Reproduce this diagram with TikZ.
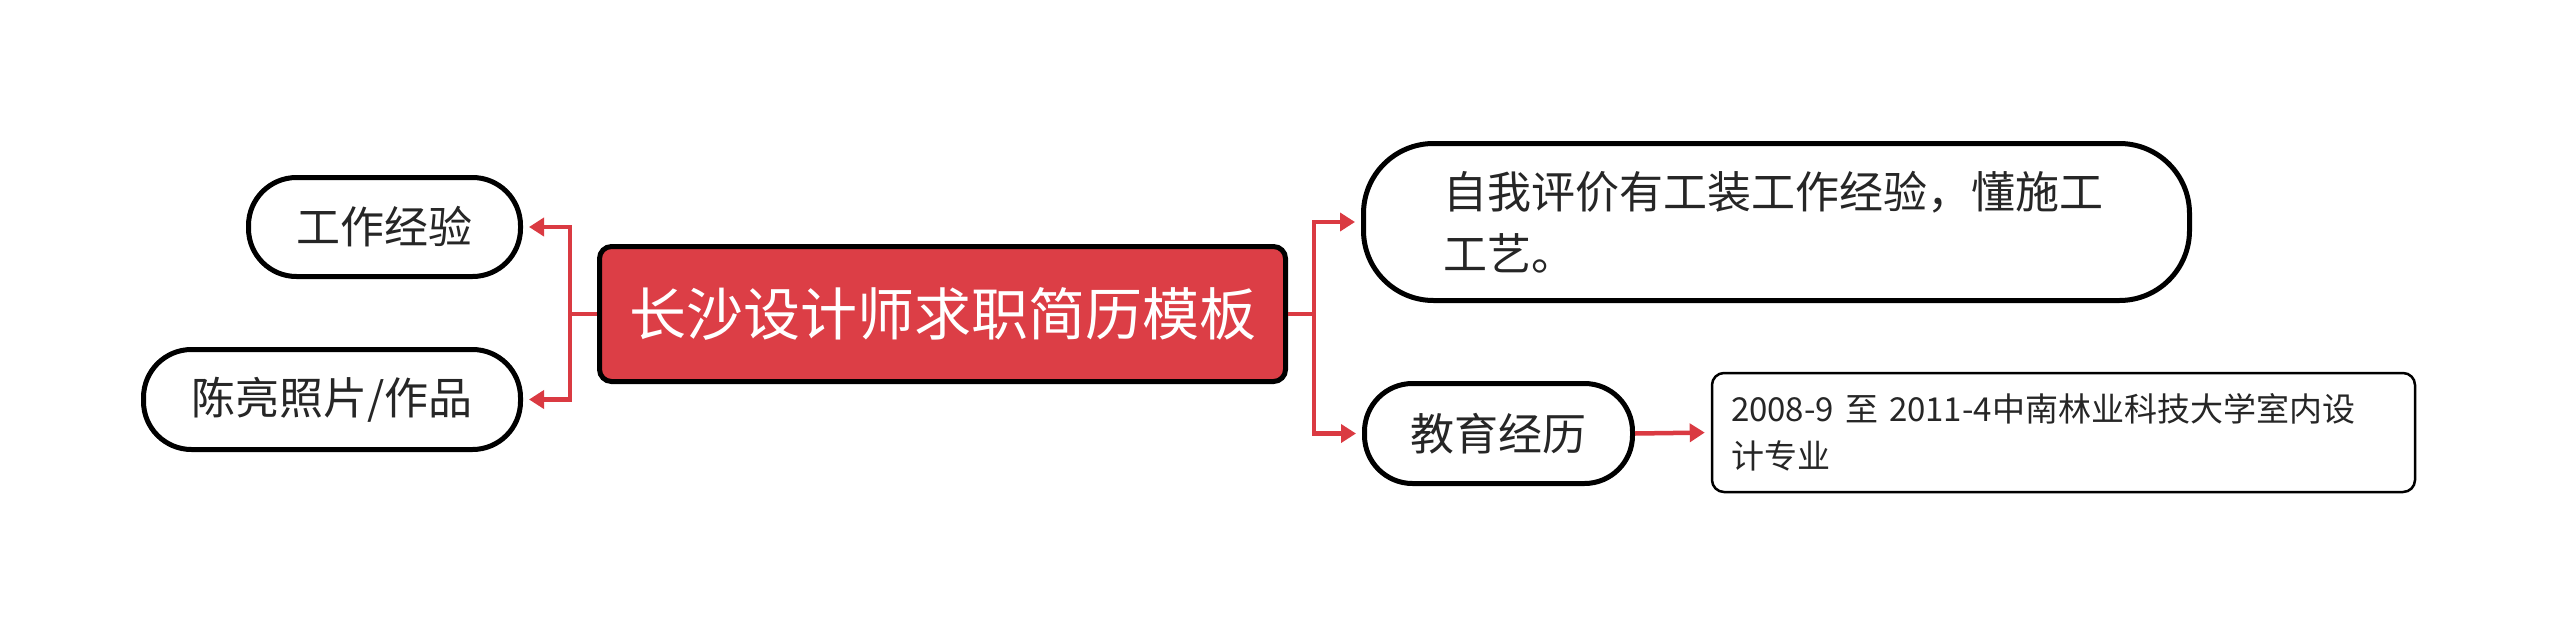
\documentclass[tikz,border=0pt]{standalone}
\usepackage{fontspec}
\setmainfont{Noto Sans CJK SC}
\usetikzlibrary{arrows.meta}
\definecolor{rootred}{RGB}{220,62,70}
\definecolor{linered}{RGB}{218,58,66}
\tikzset{
  pill/.style={draw=black, line width=5pt, fill=white, rounded corners=48pt, inner sep=0pt, font=\fontsize{44}{62}\selectfont, text=black!85},
  rootbox/.style={draw=black, line width=5pt, fill=rootred, rounded corners=12pt, inner sep=0pt, font=\fontsize{57}{70}\selectfont, text=white},
  leafbox/.style={draw=black, line width=2.5pt, fill=white, rounded corners=12pt, inner sep=0pt, font=\fontsize{33}{47}\selectfont, text=black!85},
  conn/.style={draw=linered, line width=4.5pt, -{Triangle[length=15pt,width=18pt]}, shorten >=6pt},
}
\begin{document}
\begin{tikzpicture}[x=1pt,y=-1pt]
\useasboundingbox (0,0) rectangle (2560,637);
\node[rootbox, minimum width=686pt, minimum height=135pt] (root) at (942.5,314) {长沙设计师求职简历模板};
\node[pill, minimum width=272pt, minimum height=99pt] (work) at (384.5,227) {工作经验};
\node[pill, minimum width=377pt, minimum height=100pt] (photo) at (332,399.5) {陈亮照片/作品};
\node[pill, rounded corners=70pt, minimum width=826pt, minimum height=157pt, text width=667pt, align=left] (self) at (1776.5,222) {自我评价有工装工作经验，懂施工\\工艺。};
\node[pill, minimum width=268pt, minimum height=100pt] (edu) at (1498.5,433.5) {教育经历};
\node[leafbox, minimum width=703pt, minimum height=119pt, text width=665pt, align=left] (leaf) at (2063.5,432.5) {2008-9 至 2011-4中南林业科技大学室内设\\计专业};
\draw[conn] (root.west) -- ++(-27,0) |- (work.east);
\draw[conn] (root.west) -- ++(-27,0) |- (photo.east);
\draw[conn] (root.east) -- ++(26,0) |- (self.west);
\draw[conn] (root.east) -- ++(26,0) |- (edu.west);
\draw[conn] (edu.east) -- (leaf.west);
\end{tikzpicture}
\end{document}
